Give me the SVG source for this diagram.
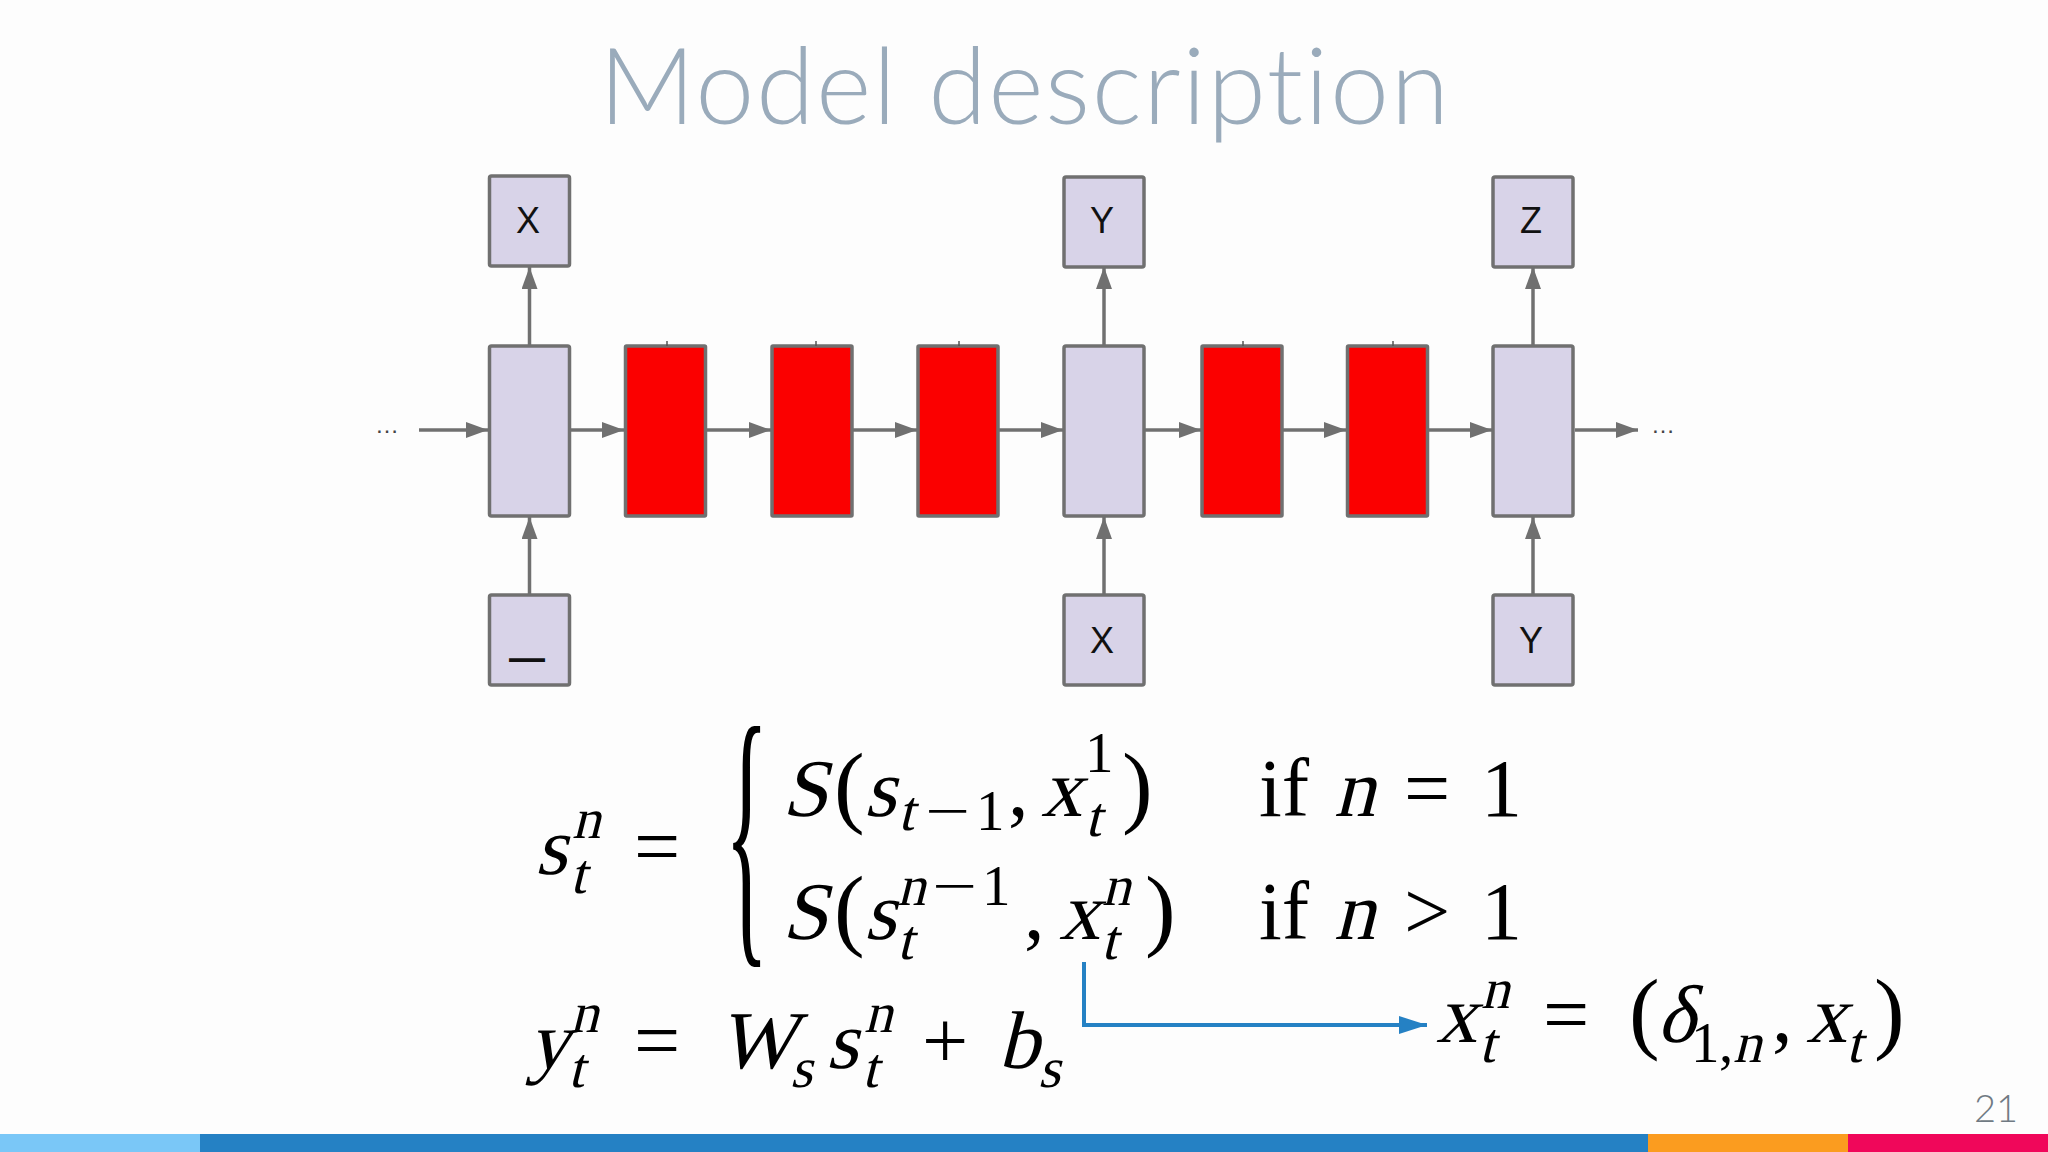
<svg xmlns="http://www.w3.org/2000/svg" width="2048" height="1152" viewBox="0 0 2048 1152">
<defs>
<style>
.lav{fill:#d8d3e8;stroke:#707070;stroke-width:3.5}
.red{fill:#fb0000;stroke:#707070;stroke-width:3.5}
.lbl{font-family:"Liberation Sans",Arial,sans-serif;font-size:36px;fill:#111;text-anchor:middle}
.con{stroke:#707070;stroke-width:3.5;fill:none;marker-end:url(#ah)}
.m{font-family:"Liberation Serif","Times New Roman",serif;fill:#000;font-style:normal}
.b{font-size:82px}
.s{font-size:57px}
.p{font-size:92px}
.dots{font-family:"Liberation Sans",Arial,sans-serif;font-size:24px;fill:#444}
</style>
<marker id="ah" markerUnits="userSpaceOnUse" markerWidth="22" markerHeight="16" refX="22" refY="8" orient="auto">
<path d="M0,0 L22,8 L0,16 z" fill="#707070"/>
</marker>
<marker id="bh" markerUnits="userSpaceOnUse" markerWidth="30" markerHeight="20" refX="28" refY="10" orient="auto">
<path d="M0,1 L28,10 L0,19 z" fill="#2581c4"/>
</marker>
</defs>
<rect x="0" y="0" width="2048" height="1152" fill="#fdfdfd"/>
<text x="1024" y="124" font-family="Lato,'Open Sans',sans-serif" font-weight="300" font-size="106" fill="#9aabbb" text-anchor="middle" textLength="850" lengthAdjust="spacing" style="font-variant-ligatures:none">Model description</text>

<g id="connectors">
<line class="con" x1="419" y1="430" x2="488" y2="430"/>
<line class="con" x1="571" y1="430" x2="624" y2="430"/>
<line class="con" x1="707" y1="430" x2="771" y2="430"/>
<line class="con" x1="853" y1="430" x2="917" y2="430"/>
<line class="con" x1="999" y1="430" x2="1063" y2="430"/>
<line class="con" x1="1145" y1="430" x2="1201" y2="430"/>
<line class="con" x1="1283" y1="430" x2="1346" y2="430"/>
<line class="con" x1="1429" y1="430" x2="1492" y2="430"/>
<line class="con" x1="1575" y1="430" x2="1638" y2="430"/>
<line class="con" x1="529.5" y1="345" x2="529.5" y2="267"/>
<line class="con" x1="529.5" y1="594" x2="529.5" y2="517"/>
<line class="con" x1="1104" y1="345" x2="1104" y2="267"/>
<line class="con" x1="1104" y1="594" x2="1104" y2="517"/>
<line class="con" x1="1533" y1="345" x2="1533" y2="267"/>
<line class="con" x1="1533" y1="594" x2="1533" y2="517"/>
<path d="M1084,962 V1025 H1427" stroke="#2581c4" stroke-width="4" fill="none" marker-end="url(#bh)"/>
</g>
<text class="dots" x="375" y="433">…</text>
<text class="dots" x="1651" y="433">…</text>

<g id="out1"><rect class="lav" x="489.5" y="176" width="80" height="90" rx="2"/><text class="lbl" x="528" y="233">X</text></g>
<g id="out2"><rect class="lav" x="1064" y="177" width="80" height="90" rx="2"/><text class="lbl" x="1102" y="233">Y</text></g>
<g id="out3"><rect class="lav" x="1493" y="177" width="80" height="90" rx="2"/><text class="lbl" x="1531" y="233">Z</text></g>

<g id="cell1"><rect class="lav" x="489.5" y="346" width="80" height="170" rx="2"/></g>
<g id="ponder1"><rect class="red" x="625.5" y="346" width="80" height="170" rx="1"/><line x1="667" y1="341" x2="667" y2="346" stroke="#555" stroke-width="1.5"/></g>
<g id="ponder2"><rect class="red" x="772" y="346" width="80" height="170" rx="1"/><line x1="816" y1="341" x2="816" y2="346" stroke="#555" stroke-width="1.5"/></g>
<g id="ponder3"><rect class="red" x="918" y="346" width="80" height="170" rx="1"/><line x1="959" y1="341" x2="959" y2="346" stroke="#555" stroke-width="1.5"/></g>
<g id="cell2"><rect class="lav" x="1064" y="346" width="80" height="170" rx="2"/></g>
<g id="ponder4"><rect class="red" x="1202" y="346" width="80" height="170" rx="1"/><line x1="1243" y1="341" x2="1243" y2="346" stroke="#555" stroke-width="1.5"/></g>
<g id="ponder5"><rect class="red" x="1347.5" y="346" width="80" height="170" rx="1"/><line x1="1393" y1="341" x2="1393" y2="346" stroke="#555" stroke-width="1.5"/></g>
<g id="cell3"><rect class="lav" x="1493" y="346" width="80" height="170" rx="2"/></g>

<g id="in1"><rect class="lav" x="489.5" y="595" width="80" height="90" rx="2"/><text class="lbl" x="527" y="670" font-size="38" font-weight="bold">—</text></g>
<g id="in2"><rect class="lav" x="1064" y="595" width="80" height="90" rx="2"/><text class="lbl" x="1102" y="653">X</text></g>
<g id="in3"><rect class="lav" x="1493" y="595" width="80" height="90" rx="2"/><text class="lbl" x="1531" y="653">Y</text></g>

<g id="eq-state">
<text class="m b" transform="translate(535 874) skewX(-14)">s</text>
<text class="m s" transform="translate(572 838) skewX(-14)">n</text>
<text class="m s" transform="translate(570 893) skewX(-14)">t</text>
<text class="m b" x="634" y="874">=</text>
<text class="m b" transform="translate(725,928) scale(1.1,3.55)">{</text>

<text class="m b" transform="translate(782 816) skewX(-14)">S</text>
<text class="m p" x="834" y="816">(</text>
<text class="m b" transform="translate(864 816) skewX(-14)">s</text>
<text class="m s" transform="translate(898 830) skewX(-14)">t</text>
<text class="m s" transform="translate(925 830) scale(1.4 1)">−</text>
<text class="m s" x="976" y="830">1</text>
<text class="m b" x="1008" y="816">,</text>
<text class="m b" transform="translate(1041 816) skewX(-14)">x</text>
<text class="m s" x="1085" y="772">1</text>
<text class="m s" transform="translate(1085 836) skewX(-14)">t</text>
<text class="m p" x="1122" y="816">)</text>
<text class="m b" x="1259" y="816">if</text>
<text class="m b" transform="translate(1334 816) skewX(-14)">n</text>
<text class="m b" x="1404" y="816">=</text>
<text class="m b" x="1481" y="816">1</text>

<text class="m b" transform="translate(782 939) skewX(-14)">S</text>
<text class="m p" x="834" y="939">(</text>
<text class="m b" transform="translate(864 939) skewX(-14)">s</text>
<text class="m s" transform="translate(897 905) skewX(-14)">n</text>
<text class="m s" transform="translate(932 905) scale(1.4 1)">−</text>
<text class="m s" x="982" y="905">1</text>
<text class="m s" transform="translate(897 959) skewX(-14)">t</text>
<text class="m b" x="1024" y="939">,</text>
<text class="m b" transform="translate(1059 939) skewX(-14)">x</text>
<text class="m s" transform="translate(1102 905) skewX(-14)">n</text>
<text class="m s" transform="translate(1101 959) skewX(-14)">t</text>
<text class="m p" x="1145" y="939">)</text>
<text class="m b" x="1259" y="939">if</text>
<text class="m b" transform="translate(1334 939) skewX(-14)">n</text>
<text class="m b" x="1404" y="939">&gt;</text>
<text class="m b" x="1481" y="939">1</text>
</g>

<g id="eq-output">
<text class="m b" transform="translate(528 1068) skewX(-14)">y</text>
<text class="m s" transform="translate(570 1032) skewX(-14)">n</text>
<text class="m s" transform="translate(568 1087) skewX(-14)">t</text>
<text class="m b" x="634" y="1068">=</text>
<text class="m b" transform="translate(718 1068) skewX(-14)">W</text>
<text class="m s" transform="translate(790 1087) skewX(-14)">s</text>
<text class="m b" transform="translate(826 1068) skewX(-14)">s</text>
<text class="m s" transform="translate(864 1032) skewX(-14)">n</text>
<text class="m s" transform="translate(862 1087) skewX(-14)">t</text>
<text class="m b" x="922" y="1068">+</text>
<text class="m b" transform="translate(998 1068) skewX(-14)">b</text>
<text class="m s" transform="translate(1038 1087) skewX(-14)">s</text>
</g>

<g id="eq-input">
<text class="m b" transform="translate(1436 1042) skewX(-14)">x</text>
<text class="m s" transform="translate(1481 1008) skewX(-14)">n</text>
<text class="m s" transform="translate(1479 1062) skewX(-14)">t</text>
<text class="m b" x="1543" y="1042">=</text>
<text class="m p" x="1629" y="1042">(</text>
<text class="m b" transform="translate(1657 1042) skewX(-14)">δ</text>
<text class="m s" x="1691" y="1062">1</text>
<text class="m s" x="1719" y="1062">,</text>
<text class="m s" transform="translate(1733 1062) skewX(-14)">n</text>
<text class="m b" x="1772" y="1042">,</text>
<text class="m b" transform="translate(1806 1042) skewX(-14)">x</text>
<text class="m s" transform="translate(1846 1062) skewX(-14)">t</text>
<text class="m p" x="1874" y="1042">)</text>
</g>

<text x="2018" y="1122" font-family="Lato,'Open Sans',sans-serif" font-weight="300" font-size="38" fill="#707a83" text-anchor="end">21</text>

<g id="footer-bar">
<rect x="0" y="1134" width="200" height="18" fill="#7ac7f7"/>
<rect x="200" y="1134" width="1448" height="18" fill="#2581c4"/>
<rect x="1648" y="1134" width="200" height="18" fill="#fb9c1f"/>
<rect x="1848" y="1134" width="200" height="18" fill="#f0075a"/>
</g>
</svg>
